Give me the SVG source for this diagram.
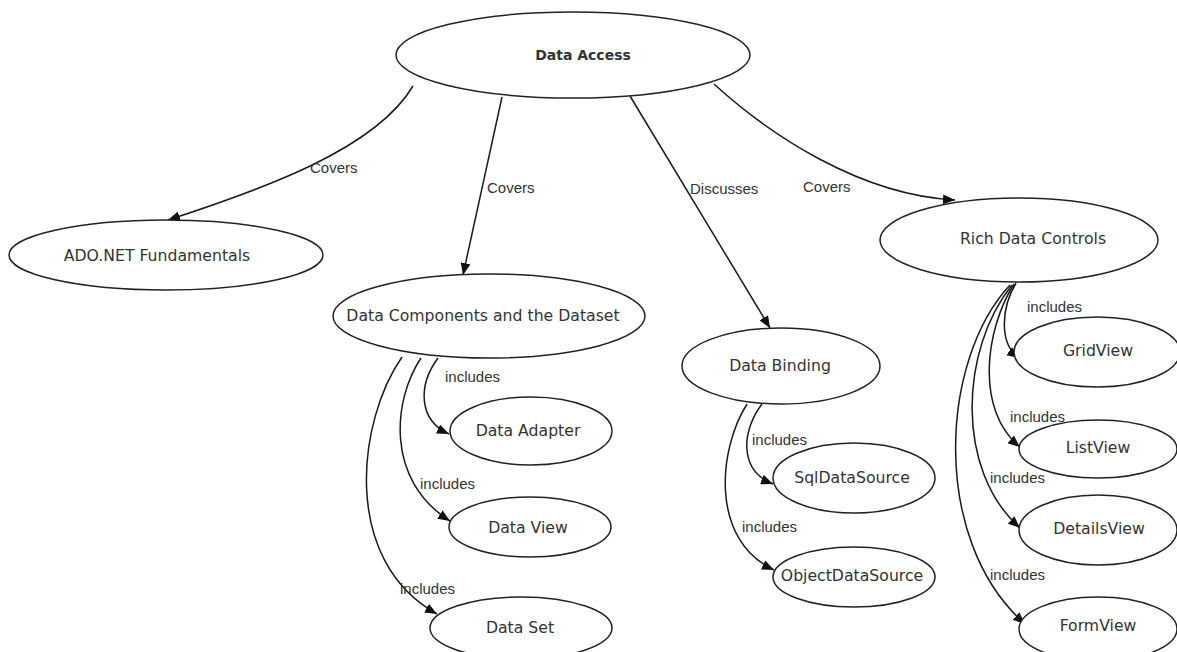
<svg xmlns="http://www.w3.org/2000/svg" width="1177" height="652" viewBox="0 0 1177 652">
<style>
.node ellipse{fill:#fff;stroke:#222;stroke-width:1.5}
.node text{font-family:"DejaVu Sans",Verdana,sans-serif;font-size:15.7px;fill:#333;text-anchor:middle;dominant-baseline:central}
.node text.b{font-weight:bold;font-size:14px}
.edges path{fill:none;stroke:#1a1a1a;stroke-width:1.5;marker-end:url(#arr)}
.edges text{font-family:"Liberation Sans",Arial,sans-serif;font-size:15px;fill:#333}
</style>
<defs>
<marker id="arr" markerUnits="userSpaceOnUse" markerWidth="14" markerHeight="10" refX="12" refY="5" orient="auto">
<path d="M0,0 L12,5 L0,10 Z" fill="#111"/>
</marker>
</defs>
<rect width="1177" height="652" fill="#fff"/>
<g id="connectors" class="edges">
<path d="M413,86 C375,150 260,190 168,220"/>
<text x="310" y="173">Covers</text>
<path d="M502,97 L463,275"/>
<text x="487" y="193">Covers</text>
<path d="M630,96 L770,328"/>
<text x="690" y="194">Discusses</text>
<path d="M714,84 C770,135 860,195 955,200"/>
<text x="803" y="192">Covers</text>
<path d="M438,358 C418,385 418,420 449,434"/>
<text x="445" y="382">includes</text>
<path d="M421,358 C393,400 385,480 450,521"/>
<text x="420" y="489">includes</text>
<path d="M402,357 C358,420 340,560 437,614"/>
<text x="400" y="594">includes</text>
<path d="M762,404 C742,430 738,470 773,484"/>
<text x="752" y="445">includes</text>
<path d="M747,404 C718,450 710,540 774,570"/>
<text x="742" y="532">includes</text>
<path d="M1016,283 C1000,310 1000,345 1019,358"/>
<text x="1027" y="312">includes</text>
<path d="M1014,284 C985,330 975,410 1020,447"/>
<text x="1010" y="422">includes</text>
<path d="M1012,285 C960,350 955,470 1020,528"/>
<text x="990" y="483">includes</text>
<path d="M1010,285 C940,360 930,540 1025,624"/>
<text x="990" y="580">includes</text>
</g>
<g id="n-data-access" class="node"><ellipse cx="573" cy="55" rx="177" ry="43"/><text class="b" x="583" y="55">Data Access</text></g>
<g id="n-ado" class="node"><ellipse cx="166" cy="255" rx="157" ry="35"/><text x="157" y="255">ADO.NET Fundamentals</text></g>
<g id="n-dc" class="node"><ellipse cx="489" cy="316" rx="156" ry="42"/><text x="483" y="315">Data Components and the Dataset</text></g>
<g id="n-adapter" class="node"><ellipse cx="531" cy="431" rx="81" ry="34"/><text x="528" y="430">Data Adapter</text></g>
<g id="n-view" class="node"><ellipse cx="530" cy="527" rx="81" ry="30"/><text x="528" y="527">Data View</text></g>
<g id="n-set" class="node"><ellipse cx="521" cy="628" rx="91" ry="31"/><text x="520" y="627">Data Set</text></g>
<g id="n-binding" class="node"><ellipse cx="781" cy="366" rx="99" ry="38"/><text x="780" y="365">Data Binding</text></g>
<g id="n-sql" class="node"><ellipse cx="854" cy="478" rx="81" ry="35"/><text x="852" y="477">SqlDataSource</text></g>
<g id="n-obj" class="node"><ellipse cx="854" cy="577" rx="81" ry="30"/><text x="852" y="575">ObjectDataSource</text></g>
<g id="n-rich" class="node"><ellipse cx="1019" cy="240" rx="139" ry="42"/><text x="1033" y="238">Rich Data Controls</text></g>
<g id="n-grid" class="node"><ellipse cx="1097" cy="352" rx="83" ry="35"/><text x="1098" y="350">GridView</text></g>
<g id="n-list" class="node"><ellipse cx="1098" cy="449" rx="79" ry="29"/><text x="1098" y="447">ListView</text></g>
<g id="n-details" class="node"><ellipse cx="1098" cy="530" rx="79" ry="35"/><text x="1099" y="528">DetailsView</text></g>
<g id="n-form" class="node"><ellipse cx="1098" cy="629" rx="79" ry="32"/><text x="1098" y="625">FormView</text></g>
</svg>
